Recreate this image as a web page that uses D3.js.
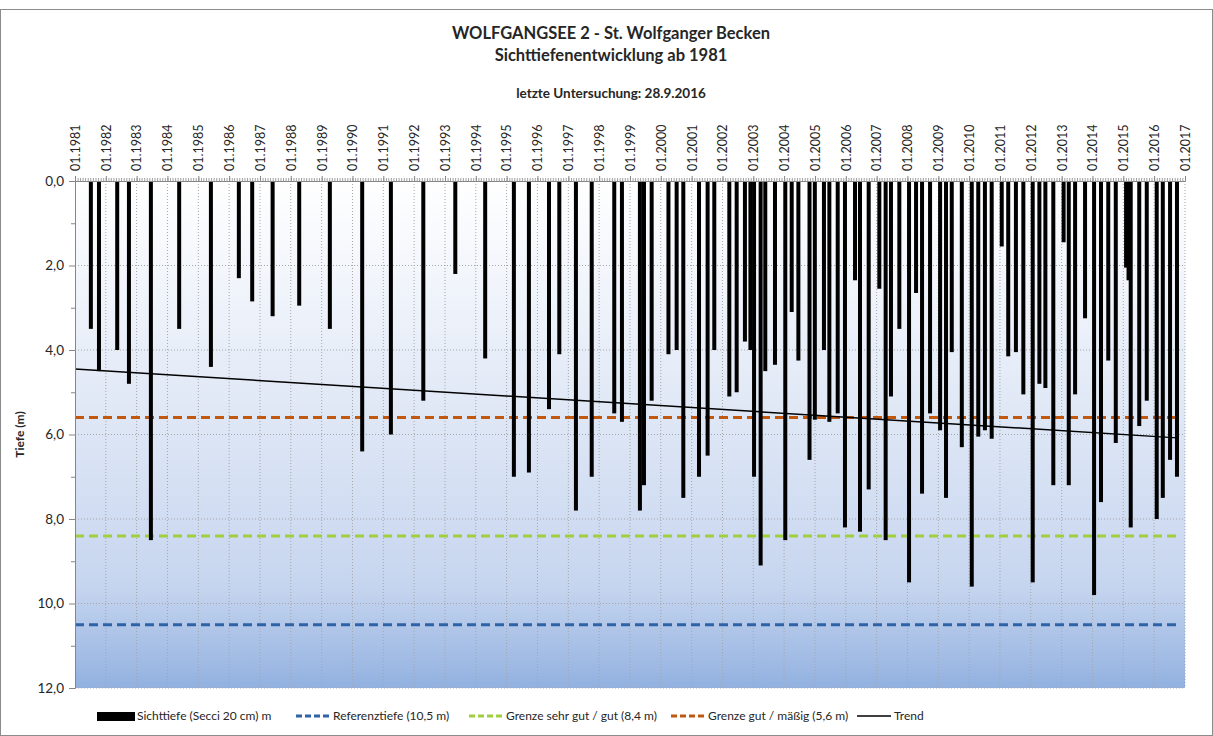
<!DOCTYPE html>
<html>
<head>
<meta charset="utf-8">
<script src="https://cdn.jsdelivr.net/npm/d3@7"></script>
<style>
  body { margin: 0; background: #fff; }
  text { font-family: Lato, "Open Sans", sans-serif; fill: #262626; }
</style>
</head>
<body>
<div id="chart"></div>
<script>
// Sichttiefe samples (date, depth in m)
var sampleDates = [
  "1981-07-08","1981-10-12","1982-05-16","1982-10-02","1983-06-19","1984-05-19","1985-05-30",
  "1986-04-26","1986-10-01","1987-05-31","1988-04-10","1989-04-08","1990-04-26","1991-04-01",
  "1992-04-19","1993-05-03","1994-04-22","1995-03-28","1995-09-22","1996-05-17","1996-09-16",
  "1997-04-01","1997-10-05","1998-06-29","1998-09-28","1999-04-29","1999-06-16","1999-09-15",
  "2000-04-01","2000-07-07","2000-09-24","2001-03-29","2001-07-09","2001-09-26","2002-03-23",
  "2002-06-18","2002-09-24","2002-11-28","2003-01-10","2003-03-29","2003-05-23","2003-09-15",
  "2004-01-15","2004-03-31","2004-06-18","2004-10-28","2004-12-30","2005-04-17","2005-06-20",
  "2005-09-27","2005-12-22","2006-04-20","2006-06-18","2006-09-29","2007-02-02","2007-04-18",
  "2007-06-20","2007-09-27","2008-01-20","2008-04-12","2008-06-22","2008-09-25","2009-01-22",
  "2009-04-02","2009-06-09","2009-10-06","2010-02-01","2010-04-19","2010-07-07","2010-09-25",
  "2011-01-22","2011-04-09","2011-07-09","2011-10-05","2012-01-24","2012-04-12","2012-06-22",
  "2012-09-24","2013-01-24","2013-03-26","2013-06-09","2013-10-05","2014-01-20","2014-04-12",
  "2014-07-07","2014-10-04","2015-02-03","2015-03-04","2015-03-30","2015-07-09","2015-10-06",
  "2016-02-01","2016-04-13","2016-07-08","2016-09-28"
];
var sampleDepths = [
  3.5, 4.5, 4.0, 4.8, 8.5, 3.5, 4.4,
  2.3, 2.85, 3.2, 2.95, 3.5, 6.4, 6.0,
  5.2, 2.2, 4.2, 7.0, 6.9, 5.4, 4.1,
  7.8, 7.0, 5.5, 5.7, 7.8, 7.2, 5.2,
  4.1, 4.0, 7.5, 7.0, 6.5, 4.0, 5.1,
  5.0, 3.8, 4.0, 7.0, 9.1, 4.5, 4.35,
  8.5, 3.1, 4.25, 6.6, 5.65, 4.0, 5.7,
  5.5, 8.2, 2.35, 8.3, 7.3, 2.55, 8.5,
  5.1, 3.5, 9.5, 2.65, 7.4, 5.5, 5.9,
  7.5, 4.05, 6.3, 9.6, 6.05, 5.9, 6.1,
  1.55, 4.15, 4.05, 5.05, 9.5, 4.8, 4.9,
  7.2, 1.45, 7.2, 5.05, 3.25, 9.8, 7.6,
  4.25, 6.2, 2.05, 2.35, 8.2, 5.8, 5.2,
  8.0, 7.5, 6.6, 7.0
];

// reference / limit lines
var refNames  = ["Referenztiefe (10,5 m)", "Grenze sehr gut / gut (8,4 m)", "Grenze gut / mäßig (5,6 m)"];
var refDepths = [10.5, 8.4, 5.6];
var refColors = ["#2f63a6", "#9fcf3c", "#c0580f"];

// linear trend, start and end
var trendDates  = ["1981-01-01", "2016-09-28"];
var trendDepths = [4.45, 6.08];

var yTicks = [0, 2, 4, 6, 8, 10, 12];

var W = 1213, H = 736;
var margin = {left: 75, right: 28, top: 181, bottom: 48};
var parse = d3.timeParse("%Y-%m-%d");

var samples = sampleDates.map(function(d, i) { return {date: parse(d), depth: sampleDepths[i]}; });

var svg = d3.select("#chart").append("svg")
    .attr("width", W)
    .attr("height", H);

// chart frame
svg.append("rect")
    .attr("x", 0.5).attr("y", 9.5)
    .attr("width", W - 1).attr("height", H - 10)
    .attr("fill", "#fff")
    .attr("stroke", "#8c8c8c");

var x = d3.scaleTime()
    .domain([new Date(1981, 0, 1), new Date(2017, 0, 1)])
    .range([margin.left, W - margin.right]);
var y = d3.scaleLinear()
    .domain([0, 12])
    .range([margin.top, H - margin.bottom]);

// background gradient of the plot area
var grad = svg.append("defs").append("linearGradient")
    .attr("id", "bg").attr("x1", 0).attr("y1", 0).attr("x2", 0).attr("y2", 1);
grad.append("stop").attr("offset", "0%").attr("stop-color", "#ffffff");
grad.append("stop").attr("offset", "45%").attr("stop-color", "#e0e8f6");
grad.append("stop").attr("offset", "80%").attr("stop-color", "#c6d5ef");
grad.append("stop").attr("offset", "100%").attr("stop-color", "#92b1e0");

svg.append("rect")
    .attr("x", x.range()[0]).attr("y", y(0))
    .attr("width", x.range()[1] - x.range()[0])
    .attr("height", y(12) - y(0))
    .attr("fill", "url(#bg)");

// gridlines
svg.append("g").selectAll("line")
    .data(yTicks.slice(1))
    .enter().append("line")
      .attr("x1", x.range()[0]).attr("x2", x.range()[1])
      .attr("y1", function(d) { return y(d); }).attr("y2", function(d) { return y(d); })
      .attr("stroke", "#a6a6a6").attr("stroke-dasharray", "1,2");

svg.append("g").selectAll("line")
    .data(x.ticks(d3.timeYear.every(1)).slice(1))
    .enter().append("line")
      .attr("x1", function(d) { return x(d); }).attr("x2", function(d) { return x(d); })
      .attr("y1", y(0)).attr("y2", y(12))
      .attr("stroke", "#a6a6a6").attr("stroke-dasharray", "1,2");

// limit lines
svg.append("g").selectAll("line")
    .data(refDepths)
    .enter().append("line")
      .attr("x1", x.range()[0]).attr("x2", x(parse(trendDates[1])))
      .attr("y1", function(d) { return y(d); }).attr("y2", function(d) { return y(d); })
      .attr("stroke", function(d, i) { return refColors[i]; })
      .attr("stroke-width", 3)
      .attr("stroke-dasharray", "9,5");

// bars
svg.append("g").selectAll("rect")
    .data(samples)
    .enter().append("rect")
      .attr("x", function(d) { return x(d.date) - 2; })
      .attr("y", y(0))
      .attr("width", 4)
      .attr("height", function(d) { return y(d.depth) - y(0); })
      .attr("fill", "#000");

// trend
svg.append("line")
    .attr("x1", x(parse(trendDates[0]))).attr("y1", y(trendDepths[0]))
    .attr("x2", x(parse(trendDates[1]))).attr("y2", y(trendDepths[1]))
    .attr("stroke", "#000").attr("stroke-width", 1.4);

// top axis: monthly minor ticks + yearly labels
var monthAxis = d3.axisTop(x).ticks(d3.timeMonth.every(1)).tickSize(3).tickFormat("");
svg.append("g")
    .attr("transform", "translate(0," + y(0) + ")")
    .call(monthAxis)
    .call(function(g) {
      g.select(".domain").attr("stroke", "#868686");
      g.selectAll(".tick line").attr("stroke", "#a0a0a0");
    });

var yearAxis = d3.axisTop(x).ticks(d3.timeYear.every(1)).tickSize(5)
    .tickFormat(d3.timeFormat("%m.%Y"));
svg.append("g")
    .attr("transform", "translate(0," + y(0) + ")")
    .call(yearAxis)
    .call(function(g) {
      g.select(".domain").remove();
      g.selectAll(".tick line").attr("stroke", "#868686");
      g.selectAll(".tick text")
        .attr("transform", "rotate(-90)")
        .attr("x", 10).attr("y", 0).attr("dy", "0.35em")
        .attr("text-anchor", "start")
        .style("font-size", "12.5px")
        .style("font-family", "Lato, sans-serif")
        .attr("fill", "#404040");
    });

// left axis
var fmt = function(d) { return d3.format(".1f")(d).replace(".", ","); };
svg.append("g")
    .attr("transform", "translate(" + x.range()[0] + ",0)")
    .call(d3.axisLeft(y).tickValues(d3.range(1, 12, 2)).tickSize(4).tickFormat(""))
    .call(function(g) {
      g.select(".domain").attr("stroke", "#868686");
      g.selectAll(".tick line").attr("stroke", "#868686");
    });
svg.append("g")
    .attr("transform", "translate(" + x.range()[0] + ",0)")
    .call(d3.axisLeft(y).tickValues(yTicks).tickSize(6).tickFormat(fmt))
    .call(function(g) {
      g.select(".domain").remove();
      g.selectAll(".tick line").attr("stroke", "#868686");
      g.selectAll(".tick text")
        .attr("x", -11)
        .style("font-size", "13.5px")
        .style("font-family", "Lato, sans-serif")
        .attr("fill", "#404040");
    });

svg.append("text")
    .attr("transform", "translate(24," + y(6) + ") rotate(-90)")
    .attr("text-anchor", "middle")
    .style("font-size", "12px").style("font-weight", "bold")
    .text("Tiefe (m)");

// titles
svg.append("text")
    .attr("x", 611).attr("y", 39)
    .attr("text-anchor", "middle")
    .style("font-size", "16.5px").style("font-weight", "bold")
    .text("WOLFGANGSEE 2 - St. Wolfganger Becken");
svg.append("text")
    .attr("x", 611).attr("y", 61)
    .attr("text-anchor", "middle")
    .style("font-size", "16.5px").style("font-weight", "bold")
    .text("Sichttiefenentwicklung ab 1981");
svg.append("text")
    .attr("x", 611).attr("y", 98)
    .attr("text-anchor", "middle")
    .style("font-size", "13.5px").style("font-weight", "bold")
    .text("letzte Untersuchung: 28.9.2016");

// legend
var legendItems = [
  {name: "Sichttiefe (Secci 20 cm) m", kind: "bar", color: "#000", x: 97},
  {name: refNames[0], kind: "dash", color: refColors[0], x: 296},
  {name: refNames[1], kind: "dash", color: refColors[1], x: 469},
  {name: refNames[2], kind: "dash", color: refColors[2], x: 671},
  {name: "Trend", kind: "line", color: "#000", x: 857}
];
var ly = 716;
var legend = svg.append("g").selectAll("g")
    .data(legendItems)
    .enter().append("g")
      .attr("transform", function(d) { return "translate(" + d.x + "," + ly + ")"; });

legend.filter(function(d) { return d.kind === "bar"; }).append("rect")
    .attr("x", 0).attr("y", -4).attr("width", 38).attr("height", 9)
    .attr("fill", "#000");
legend.filter(function(d) { return d.kind === "dash"; }).append("line")
    .attr("x1", 0).attr("x2", 34).attr("y1", 0).attr("y2", 0)
    .attr("stroke", function(d) { return d.color; })
    .attr("stroke-width", 3).attr("stroke-dasharray", "6,3");
legend.filter(function(d) { return d.kind === "line"; }).append("line")
    .attr("x1", 0).attr("x2", 34).attr("y1", 0).attr("y2", 0)
    .attr("stroke", "#000").attr("stroke-width", 1.5);

legend.append("text")
    .attr("x", function(d) { return d.kind === "bar" ? 40 : 37; })
    .attr("y", 0).attr("dy", "0.35em")
    .style("font-size", "12px")
    .style("font-family", "Lato, sans-serif")
    .attr("fill", "#404040")
    .text(function(d) { return d.name; });
</script>
</body>
</html>
